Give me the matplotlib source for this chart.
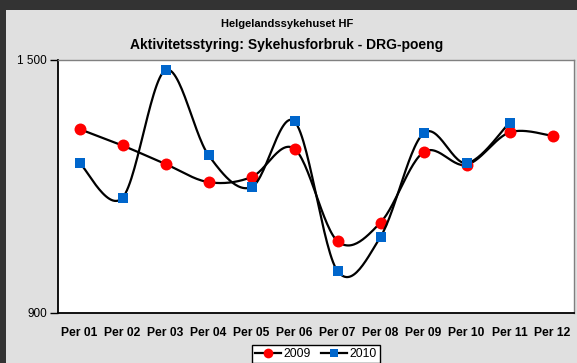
import numpy as np
import matplotlib
matplotlib.use('Agg')
import matplotlib.pyplot as plt
from matplotlib.lines import Line2D
from matplotlib.patches import Rectangle

plt.rcParams['font.family'] = ['Liberation Sans', 'DejaVu Sans']

periods = ['Per 01', 'Per 02', 'Per 03', 'Per 04', 'Per 05', 'Per 06',
           'Per 07', 'Per 08', 'Per 09', 'Per 10', 'Per 11', 'Per 12']
drg_2009 = [1336, 1297, 1253, 1210, 1222, 1289, 1070, 1114, 1281, 1251, 1328, 1320]
drg_2010 = [1256, 1173, 1476, 1274, 1198, 1354, 999, 1080, 1326, 1255, 1351]


def smooth(xs, ys, n=30):
    # Excel-lignende glatting (Catmull-Rom som Bezier)
    pts = np.column_stack([xs, ys]).astype(float)
    out = []
    for i in range(len(pts) - 1):
        p0 = pts[max(i - 1, 0)]
        p1 = pts[i]
        p2 = pts[i + 1]
        p3 = pts[min(i + 2, len(pts) - 1)]
        c1 = p1 + (p2 - p0) / 6
        c2 = p2 - (p3 - p1) / 6
        t = np.linspace(0, 1, n)[:, None]
        seg = ((1 - t) ** 3) * p1 + 3 * ((1 - t) ** 2) * t * c1 + 3 * (1 - t) * t ** 2 * c2 + t ** 3 * p2
        out.append(seg)
    out = np.vstack(out)
    return out[:, 0], out[:, 1]


fig = plt.figure(figsize=(5.77, 3.63), dpi=100, facecolor='#e0e0e0')

# mørk ramme oppe og til venstre
fig.patches.append(Rectangle((0, 0), 6 / 577, 1, transform=fig.transFigure,
                             facecolor='#333333', edgecolor='none', zorder=0))
fig.patches.append(Rectangle((0, 1 - 10 / 363), 1, 10 / 363, transform=fig.transFigure,
                             facecolor='#333333', edgecolor='none', zorder=0))

ax = fig.add_axes([58 / 577, 1 - 312.7 / 363, (574 - 58) / 577, (312.7 - 60) / 363])
ax.set_facecolor('white')

x09 = np.arange(len(drg_2009))
x10 = np.arange(len(drg_2010))

sx, sy = smooth(x09, drg_2009)
ax.plot(sx, sy, color='black', lw=1.6, zorder=2)
ax.plot(x09, drg_2009, 'o', color='#ff0000', markersize=8.6, markeredgewidth=0, zorder=3)

sx, sy = smooth(x10, drg_2010)
ax.plot(sx, sy, color='black', lw=1.6, zorder=4)
ax.plot(x10, drg_2010, 's', color='#0066cc', markersize=7.8, markeredgewidth=0, zorder=5)

ax.set_xlim(-0.5, 11.5)
ax.set_ylim(900, 1500)
ax.set_yticks([900, 1500])
ax.set_yticklabels(['900', '1 500'], fontsize=8.5)
ax.set_xticks(x09)
ax.set_xticklabels(periods, fontsize=8.7, fontweight='bold')
ax.tick_params(axis='x', length=0, pad=10)
ax.tick_params(axis='y', length=5.5, width=1, direction='out', pad=2.5)

for s in ['left', 'bottom']:
    ax.spines[s].set_color('black')
    ax.spines[s].set_linewidth(1.3)
for s in ['top', 'right']:
    ax.spines[s].set_color('#808080')
    ax.spines[s].set_linewidth(1)

fig.text(287 / 577, 1 - 24 / 363, 'Helgelandssykehuset HF', ha='center', va='center',
         fontsize=8, fontweight='bold')
fig.text(287 / 577, 1 - 45 / 363, 'Aktivitetsstyring: Sykehusforbruk - DRG-poeng',
         ha='center', va='center', fontsize=10, fontweight='bold')

handles = [
    Line2D([], [], color='black', lw=1.6, marker='o', markerfacecolor='#ff0000',
           markeredgewidth=0, markersize=7),
    Line2D([], [], color='black', lw=1.6, marker='s', markerfacecolor='#0066cc',
           markeredgewidth=0, markersize=6),
]
leg = fig.legend(handles, ['2009', '2010'], loc='upper center', ncol=2,
                 bbox_to_anchor=(316 / 577, 1 - 345 / 363), fontsize=8.7,
                 frameon=True, fancybox=False, framealpha=1, edgecolor='black',
                 handlelength=2.2, handletextpad=0.2, columnspacing=0.8,
                 borderpad=0.25, borderaxespad=0)
leg.get_frame().set_linewidth(1)

fig.savefig('out.png', dpi=100, facecolor=fig.get_facecolor())
